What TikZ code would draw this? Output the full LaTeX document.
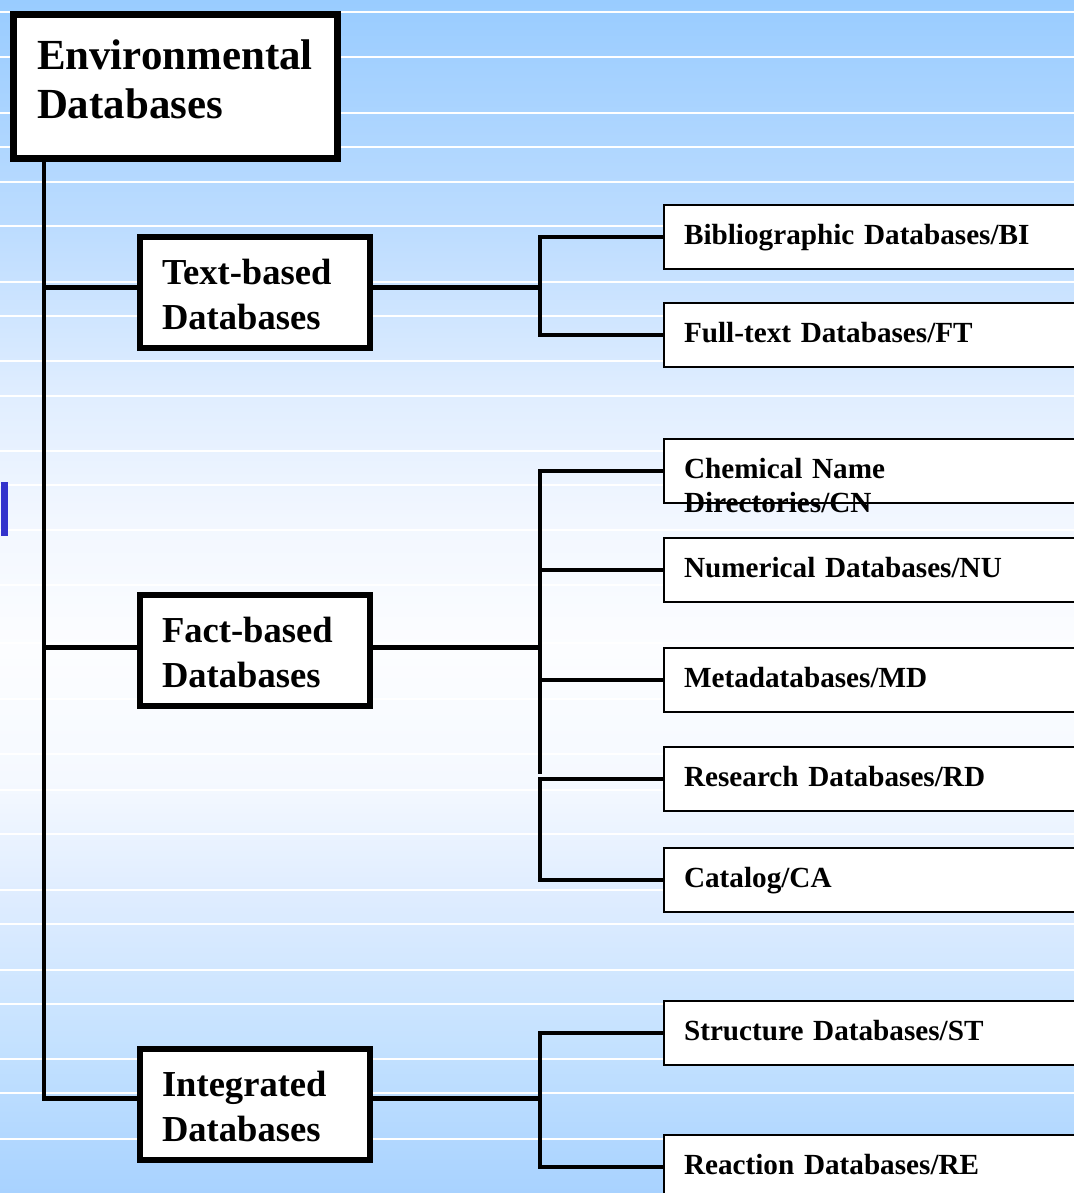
\documentclass[tikz,border=0pt]{standalone}
\usepackage{fontspec}
\setmainfont{Liberation Serif}
\usetikzlibrary{positioning}
\definecolor{bgA}{RGB}{153,204,255}
\definecolor{bgB}{RGB}{188,220,255}
\definecolor{bgC}{RGB}{225,238,255}
\definecolor{bgD}{RGB}{242,247,255}
\definecolor{bgE}{RGB}{252,253,255}
\definecolor{bgF}{RGB}{245,249,255}
\definecolor{bgG}{RGB}{222,236,255}
\definecolor{bgH}{RGB}{195,225,255}
\definecolor{bgI}{RGB}{168,210,255}
\definecolor{marker}{RGB}{51,51,204}
\pgfdeclareverticalshading{backdrop}{100bp}{color(0bp)=(bgI); color(25bp)=(bgI); color(31bp)=(bgH); color(37.3bp)=(bgG); color(42.3bp)=(bgF); color(47.8bp)=(bgE); color(53.2bp)=(bgD); color(58.2bp)=(bgC); color(65.5bp)=(bgB); color(75bp)=(bgA); color(100bp)=(bgA)}
\tikzset{rootbox/.style={draw,fill=white,line width=0.07cm,anchor=north west,inner xsep=0.235cm,inner ysep=0pt,text width=2.77cm,align=left,text height=0.545cm,text depth=0.895cm,font=\fontsize{12.2}{14.2}\selectfont\bfseries}}
\tikzset{groupbox/.style={draw,fill=white,line width=0.06cm,anchor=north west,inner xsep=0.22cm,inner ysep=0pt,text width=1.86cm,align=left,text height=0.47cm,text depth=0.64cm,font=\fontsize{10.4}{12.8}\selectfont\bfseries}}
\tikzset{leafbox/.style={draw,fill=white,line width=0.6pt,anchor=north west,inner xsep=0.2cm,inner ysep=0pt,text width=4.6cm,align=left,text height=0.39cm,text depth=0.25cm,font=\fontsize{8.3}{9.7}\selectfont\bfseries}}
\tikzset{link/.style={line width=0.045cm}}
\tikzset{bgline/.style={white,line width=0.015cm}}

\begin{document}
\begin{tikzpicture}[x=0.01cm,y=-0.01cm]
      \useasboundingbox (0,0) rectangle (1074,1193);
      \clip (0,0) rectangle (1074,1193);
      \shade[shading=backdrop] (0,0) rectangle (1074,1193);
      \foreach \y in {12,57,113,147,182,226,282,316,361,396,451,485,530,585,643,699,754,790,834,890,924,970,1004,1059,1093,1139}
        \draw[bgline] (0,\y) -- (1074,\y);
      \fill[marker] (1,482) rectangle (8,536);

      \node[rootbox] (env) at (10,11) {Environmental\\Databases};

      \node[groupbox] (text) at (137,234) {Text-based\\Databases};
      \node[groupbox] (fact) at (137,592) {Fact-based\\Databases};
      \node[groupbox] (integ) at (137,1046) {Integrated\\Databases};

      \node[leafbox] (bi) at (663,204) {Bibliographic Databases/BI};
      \node[leafbox] (ft) at (663,302) {Full-text Databases/FT};
      \node[leafbox] (cn) at (663,438) {Chemical Name\\Directories/CN};
      \node[leafbox] (nu) at (663,537) {Numerical Databases/NU};
      \node[leafbox] (md) at (663,647) {Metadatabases/MD};
      \node[leafbox] (rd) at (663,746) {Research Databases/RD};
      \node[leafbox] (ca) at (663,847) {Catalog/CA};
      \node[leafbox] (st) at (663,1000) {Structure Databases/ST};
      \node[leafbox] (re) at (663,1134) {Reaction Databases/RE};

      \coordinate (trunk) at (44,0);
      \coordinate (fork) at (540,0);
      \coordinate (textin) at ([yshift=0.05cm]text.west);
      \coordinate (textout) at ([yshift=0.05cm]text.east);
      \coordinate (factin) at ([yshift=0.03cm]fact.west);
      \coordinate (factout) at ([yshift=0.03cm]fact.east);
      \coordinate (integin) at ([yshift=0.06cm]integ.west);
      \coordinate (integout) at ([yshift=0.06cm]integ.east);

      \draw[link] (env.south -| trunk) |- (integin);
      \draw[link] (trunk |- textin) -- (textin);
      \draw[link] (trunk |- factin) -- (factin);

      \draw[link] (textout) -- (textout -| fork);
      \draw[link] (bi.west) -| (ft.west -| fork) -- (ft.west);

      \draw[link] (factout) -- (factout -| fork);
      \draw[link,shorten >=0.05cm] (cn.west) -| (rd.west -| fork);
      \draw[link] (nu.west) -- (nu.west -| fork);
      \draw[link] (md.west) -- (md.west -| fork);
      \draw[link] (rd.west) -| (ca.west -| fork) -- (ca.west);

      \draw[link] (integout) -- (integout -| fork);
      \draw[link] (st.west) -| (re.west -| fork) -- (re.west);
\end{tikzpicture}
\end{document}
